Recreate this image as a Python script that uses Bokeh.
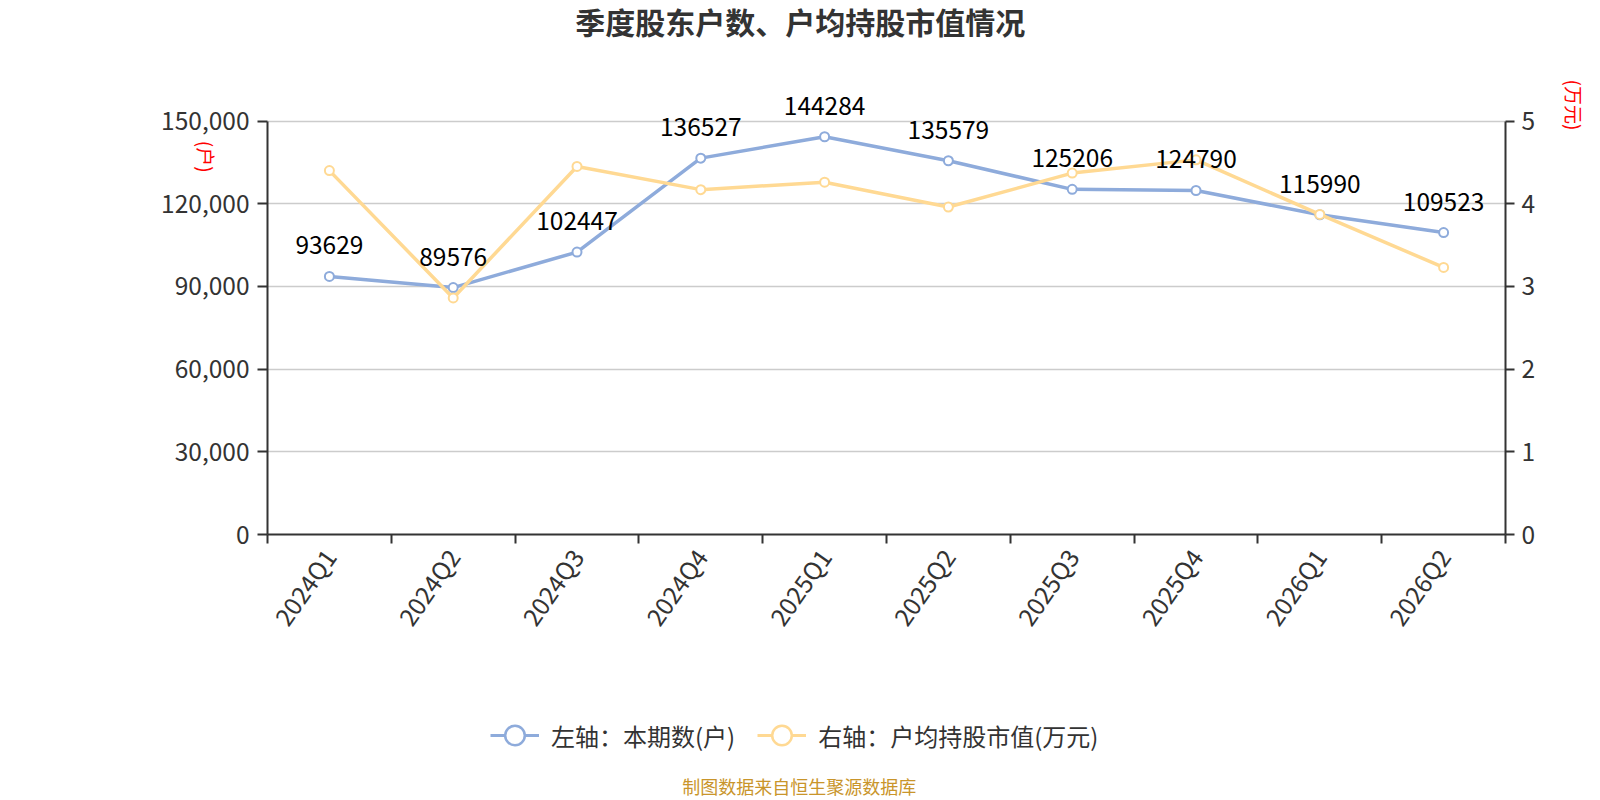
import math
from bokeh.plotting import figure
from bokeh.layouts import column
from bokeh.models import (ColumnDataSource, LinearAxis, Range1d, FixedTicker,
                          Legend, LegendItem, NumeralTickFormatter)
from bokeh.core.properties import value
from bokeh.embed import file_html
from bokeh.resources import INLINE

quarters = ["2024Q1", "2024Q2", "2024Q3", "2024Q4", "2025Q1", "2025Q2",
            "2025Q3", "2025Q4", "2026Q1", "2026Q2"]
holders = [93629, 89576, 102447, 136527, 144284, 135579, 125206, 124790, 115990, 109523]
avg_value = [4.40, 2.86, 4.45, 4.17, 4.26, 3.96, 4.37, 4.53, 3.87, 3.23]
left_ticks = [0, 30000, 60000, 90000, 120000, 150000]
right_ticks = [0, 1, 2, 3, 4, 5]
title_text = "季度股东户数、户均持股市值情况"
left_name = "(户)"
right_name = "(万元)"
legend_labels = ["左轴：本期数(户)", "右轴：户均持股市值(万元)"]
source_text = "制图数据来自恒生聚源数据库"

FONT = "Noto Sans CJK SC"
BLUE = "#8eabdb"
ORANGE = "#ffd993"
AX = "#333333"
TICK_FS = "24.5px"
NAME_FS = "19px"

BORDER_L = 267
FW = 1238
BORDER_R = 94
W = BORDER_L + FW + BORDER_R
HEAD_H = 72
FH = 462
BORDER_B = 118
FOOT_H = 146
LMAX = 150000
RMAX = 5
LTOP = LMAX * FH / 413.5
RTOP = RMAX * FH / 413.5


def blank(h):
    f = figure(width=W, height=h, x_range=Range1d(0, FW), y_range=Range1d(0, h),
               x_axis_type=None, y_axis_type=None, min_border=0,
               output_backend="svg", toolbar_location=None)
    f.grid.visible = False
    f.outline_line_color = None
    return f


def name_axis(pos, text, standoff, **kw):
    a = LinearAxis(ticker=FixedTicker(ticks=[pos]), **kw)
    a.major_label_overrides = {pos: text}
    a.axis_line_color = None
    a.major_tick_line_color = None
    a.minor_tick_line_color = None
    a.major_tick_out = 0
    a.major_tick_in = 0
    a.major_label_orientation = -math.pi / 2
    a.major_label_standoff = standoff
    a.major_label_text_font = FONT
    a.major_label_text_font_size = NAME_FS
    a.major_label_text_color = "red"
    return a


def style_y(a, tick_out, standoff):
    a.minor_tick_line_color = None
    a.major_tick_out = tick_out
    a.major_tick_in = 0
    a.major_tick_line_color = AX
    a.major_tick_line_width = 2
    a.axis_line_color = AX
    a.axis_line_width = 2
    a.major_label_text_font = FONT
    a.major_label_text_font_size = TICK_FS
    a.major_label_text_color = AX
    a.major_label_standoff = standoff


# ---------- header ----------
head = blank(HEAD_H)
head.text(x=[535], y=[HEAD_H - 20.5], text=[title_text], text_align="center",
          text_baseline="middle", text_font=value(FONT), text_font_size="30px",
          text_font_style="bold", text_color=AX)

# ---------- main ----------
xs = [i + 0.5 for i in range(len(quarters))]
src = ColumnDataSource(dict(x=xs, h=holders, v=avg_value,
                            lab=[str(h) for h in holders]))

p = figure(frame_width=FW, frame_height=FH,
           min_border_left=BORDER_L, min_border_right=BORDER_R,
           min_border_top=0, min_border_bottom=BORDER_B,
           x_range=Range1d(0, len(quarters)), y_range=Range1d(0, LTOP),
           title=None, output_backend="svg", toolbar_location=None)
p.outline_line_color = None
p.extra_y_ranges = {"r": Range1d(0, RTOP)}

p.xgrid.visible = False
p.ygrid.grid_line_color = "#cccccc"
p.ygrid.grid_line_width = 1.5
p.ygrid.ticker = FixedTicker(ticks=left_ticks)

xa = p.xaxis[0]
xa.ticker = FixedTicker(ticks=xs, minor_ticks=list(range(len(quarters) + 1)))
xa.major_label_overrides = {x: q for x, q in zip(xs, quarters)}
xa.major_tick_out = 0
xa.major_tick_in = 0
xa.minor_tick_out = 9
xa.minor_tick_in = 0
xa.minor_tick_line_color = AX
xa.minor_tick_line_width = 2
xa.axis_line_color = AX
xa.axis_line_width = 2
xa.major_label_orientation = math.radians(55)
xa.major_label_text_font = FONT
xa.major_label_text_font_size = TICK_FS
xa.major_label_text_color = AX
xa.major_label_standoff = 8

ya = p.yaxis[0]
ya.ticker = FixedTicker(ticks=left_ticks)
ya.bounds = (0, LMAX)
ya.formatter = NumeralTickFormatter(format="0,0")
style_y(ya, 10, 8)

p.add_layout(name_axis(131282, left_name, -48), "left")

ra = LinearAxis(y_range_name="r", ticker=FixedTicker(ticks=right_ticks), bounds=(0, RMAX))
style_y(ra, 9, 7)
p.add_layout(ra, "right")
p.add_layout(name_axis(165055, right_name, 36), "right")

p.line("x", "h", source=src, line_color=BLUE, line_width=3.5)
p.scatter("x", "h", source=src, size=9, fill_color="white", line_color=BLUE, line_width=2)
p.line("x", "v", source=src, line_color=ORANGE, line_width=3.5, y_range_name="r")
p.scatter("x", "v", source=src, size=9, fill_color="white", line_color=ORANGE,
          line_width=2, y_range_name="r")
p.text("x", "h", text="lab", source=src, text_align="center", text_baseline="bottom",
       y_offset=-22, text_font=value(FONT), text_font_size="24.5px", text_color="black")

# ---------- footer ----------
foot = blank(FOOT_H)
nan = float("nan")
fl1 = foot.line([nan], [nan], line_color=BLUE, line_width=3)
fs1 = foot.scatter([nan], [nan], size=9, fill_color="white", line_color=BLUE, line_width=2.5)
fl2 = foot.line([nan], [nan], line_color=ORANGE, line_width=3)
fs2 = foot.scatter([nan], [nan], size=9, fill_color="white", line_color=ORANGE, line_width=2.5)
legend = Legend(items=[LegendItem(label=legend_labels[0], renderers=[fl1, fs1]),
                       LegendItem(label=legend_labels[1], renderers=[fl2, fs2])],
                location=(223, 35), orientation="horizontal", margin=0,
                glyph_width=49, glyph_height=56, spacing=22, padding=0,
                label_standoff=12,
                label_text_font=FONT, label_text_font_size="24px",
                label_text_color=AX, border_line_alpha=0, background_fill_alpha=0)
foot.add_layout(legend, "center")
foot.text(x=[534], y=[13], text=[source_text], text_align="center",
          text_baseline="middle", text_font=value(FONT), text_font_size="18px",
          text_color="#c9952b")

layout = column(head, p, foot, spacing=0)
open("out.html", "w").write(file_html(layout, INLINE))
